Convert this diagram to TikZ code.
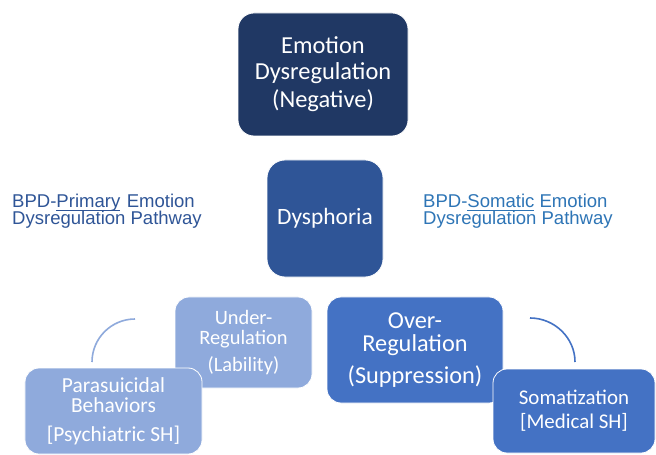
\documentclass[tikz,border=0pt]{standalone}
\usepackage{fontspec}
\setmainfont{Carlito}
\newfontfamily\arialf{Liberation Sans}
\usetikzlibrary{backgrounds}
\definecolor{navy}{HTML}{203864}
\definecolor{dysc}{HTML}{2F5597}
\definecolor{lightb}{HTML}{8FAADC}
\definecolor{midb}{HTML}{4472C4}
\definecolor{lblleft}{HTML}{2F5597}
\definecolor{lblright}{HTML}{2E75B6}
\newcommand{\myul}[1]{\leavevmode\setbox0=\hbox{#1}\rlap{\rule[-2.6pt]{\wd0}{1pt}}\box0\relax}
\begin{document}
\begin{tikzpicture}[x=1bp,y=-1bp,
  box/.style={rectangle, rounded corners=16bp, draw=white, line width=0.8bp, text=white, align=center, inner sep=0pt},
  conn/.style={draw=dysc, line width=1.6bp},
  arcl/.style={draw=lightb, line width=1.6bp},
  arcr/.style={draw=midb, line width=1.6bp},
  lbl/.style={anchor=base west, inner sep=0pt, font=\arialf\fontsize{18.6}{16}\selectfont}]
\useasboundingbox (0,0) rectangle (656,455);
\fill[white] (0,0) rectangle (656,455);

\node[box, fill=navy, minimum width=170bp, minimum height=123bp, font=\fontsize{24.5}{26}\selectfont] (top) at (323,74.5) {Emotion\\Dysregulation\\[2bp](Negative)};
\node[box, fill=dysc, minimum width=116bp, minimum height=117bp, rounded corners=18bp, font=\fontsize{23.5}{26}\selectfont] (dys) at (325,218.5) {Dysphoria};
\node[box, fill=lightb, minimum width=137bp, minimum height=91bp, rounded corners=14bp, font=\fontsize{20.5}{20}\selectfont] (under) at (243.5,342.5) {Under-\\Regulation\\[7bp](Lability)};
\node[box, fill=midb, minimum width=176bp, minimum height=106bp, rounded corners=14bp, font=\fontsize{24.4}{23}\selectfont] (over) at (415,350) {Over-\\Regulation\\[9bp](Suppression)};
\node[box, fill=lightb, minimum width=177bp, minimum height=86bp, rounded corners=14bp, font=\fontsize{21.5}{20}\selectfont] (para) at (113.5,411) {Parasuicidal\\Behaviors\\[9bp][Psychiatric SH]};
\node[box, fill=midb, minimum width=162bp, minimum height=84bp, rounded corners=14bp, font=\fontsize{21}{24}\selectfont] (soma) at (574,411) {Somatization\\{}[Medical SH]};

\begin{pgfonlayer}{background}
\draw[conn] (top.south) -- (top.south |- dys.north);
\draw[conn] (dys.center) -- (under.center);
\draw[conn] (dys.center) -- (over.center);
\draw[conn] (under.center) -- (para.center);
\end{pgfonlayer}

\coordinate (la1) at (92,362);
\coordinate (la2) at (135,319);
\draw[arcl] (la1) .. controls (92,338.3) and (111.3,319) .. (la2);
\coordinate (ra1) at (530,318);
\coordinate (ra2) at (575,362);
\draw[arcr] (ra1) .. controls (554.3,318) and (575,337.7) .. (ra2);

\node[lbl, text=lblleft] (ll1) at (12,208) {BPD-\myul{Primary}\hspace{0.35em}Emotion};
\node[lbl, text=lblleft] (ll2) at (12,225) {Dysregulation Pathway};
\node[lbl, text=lblright] (rl1) at (423,208) {BPD-\myul{Somatic} Emotion};
\node[lbl, text=lblright] (rl2) at (423,225) {Dysregulation Pathway};
\end{tikzpicture}
\end{document}
